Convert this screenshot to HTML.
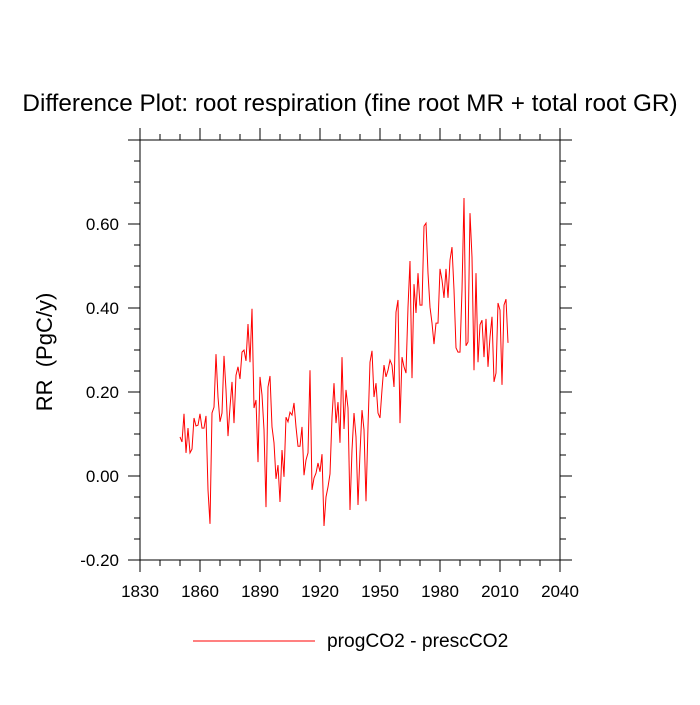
<!DOCTYPE html>
<html><head><meta charset="utf-8"><style>
body{margin:0;background:#fff}
svg text{font-family:"Liberation Sans",sans-serif;fill:#000}
</style></head><body>
<svg id="chart" width="700" height="700" xmlns="http://www.w3.org/2000/svg">
<text x="350" y="111" font-size="24.3" text-anchor="middle">Difference Plot: root respiration (fine root MR + total root GR)</text>
<text transform="translate(52,352) rotate(-90)" font-size="22" text-anchor="middle" style="white-space:pre">RR  (PgC/y)</text>
<rect x="140" y="140" width="420" height="420" fill="none" stroke="#000" stroke-width="1"/>
<g id="axes"></g>
<polyline id="series" fill="none" stroke="#ff0000" stroke-width="1"/>
<line x1="193" y1="641" x2="315" y2="641" stroke="#ff0000" stroke-width="1"/>
<text x="327" y="647" font-size="19.2">progCO2 - prescCO2</text>
</svg>
<script>
const startYear = 1850;
const values = [
0.093,0.081,0.148,0.055,0.114,0.055,0.064,0.138,0.119,0.121,
0.148,0.114,0.114,0.143,-0.033,-0.114,0.150,0.164,0.290,0.188,
0.129,0.150,0.286,0.205,0.095,0.164,0.224,0.126,0.240,0.260,
0.231,0.295,0.300,0.274,0.362,0.271,0.398,0.162,0.181,0.033,
0.236,0.193,0.110,-0.074,0.212,0.238,0.117,0.079,-0.007,0.026,
-0.062,0.062,-0.002,0.140,0.129,0.152,0.145,0.174,0.117,0.071,
0.071,0.117,0.002,0.038,0.055,0.252,-0.033,-0.005,0.007,0.031,
0.010,0.052,-0.119,-0.050,-0.026,0.005,0.140,0.221,0.126,0.176,
0.079,0.283,0.112,0.205,0.162,-0.081,0.062,0.150,0.093,-0.069,
0.055,0.157,0.110,-0.060,0.117,0.271,0.298,0.188,0.221,0.150,
0.138,0.205,0.264,0.236,0.252,0.276,0.264,0.212,0.390,0.419,
0.126,0.283,0.260,0.245,0.402,0.512,0.233,0.457,0.388,0.483,
0.407,0.407,0.595,0.602,0.483,0.402,0.364,0.314,0.364,0.364,
0.493,0.467,0.424,0.493,0.424,0.514,0.545,0.443,0.305,0.295,
0.295,0.443,0.662,0.310,0.319,0.626,0.521,0.252,0.483,0.271,
0.360,0.371,0.283,0.374,0.260,0.331,0.379,0.224,0.245,0.412,
0.395,0.217,0.407,0.421,0.317];
const xTicks = [1830,1860,1890,1920,1950,1980,2010,2040];
const yTicks = [-0.20,0.00,0.20,0.40,0.60];
const xMin=1830,xMax=2040,yMin=-0.2,yMax=0.8;
const L=140,R=560,T=140,B=560;
const xs=v=>L+(v-xMin)/(xMax-xMin)*(R-L);
const ys=v=>B-(v-yMin)/(yMax-yMin)*(B-T);
const NS="http://www.w3.org/2000/svg";
const g=document.getElementById('axes');
function ln(x1,y1,x2,y2,name){const l=document.createElementNS(NS,'line');
l.setAttribute('x1',x1);l.setAttribute('y1',y1);l.setAttribute('x2',x2);l.setAttribute('y2',y2);
l.setAttribute('stroke','#000');l.setAttribute('stroke-width','1');


g.appendChild(l);}
function tx(x,y,s,anchor,name){const t=document.createElementNS(NS,'text');
t.setAttribute('x',x);t.setAttribute('y',y);t.setAttribute('font-size','17');t.setAttribute('text-anchor',anchor);t.textContent=s;


g.appendChild(t);}
for(let yr=xMin;yr<=xMax;yr+=10){const x=xs(yr);const maj=(yr-xMin)%30===0;const len=maj?12:6;
ln(x,B,x,B+len,'x-tick');ln(x,T,x,T-len,'x-tick-top');}
xTicks.forEach(v=>tx(xs(v),B+37,String(v),'middle','x-tick-label'));
for(let i=0;i<=20;i++){const v=yMin+i*0.05;const y=ys(v);const maj=i%4===0;const len=maj?12:6;
ln(L,y,L-len,y,'y-tick');ln(R,y,R+len,y,'y-tick-right');}
yTicks.forEach(v=>tx(L-21,ys(v)+6,v.toFixed(2),'end','y-tick-label'));
const pts=values.map((v,i)=>xs(startYear+i).toFixed(1)+','+ys(v).toFixed(1)).join(' ');
document.getElementById('series').setAttribute('points',pts);
</script>
</body></html>
